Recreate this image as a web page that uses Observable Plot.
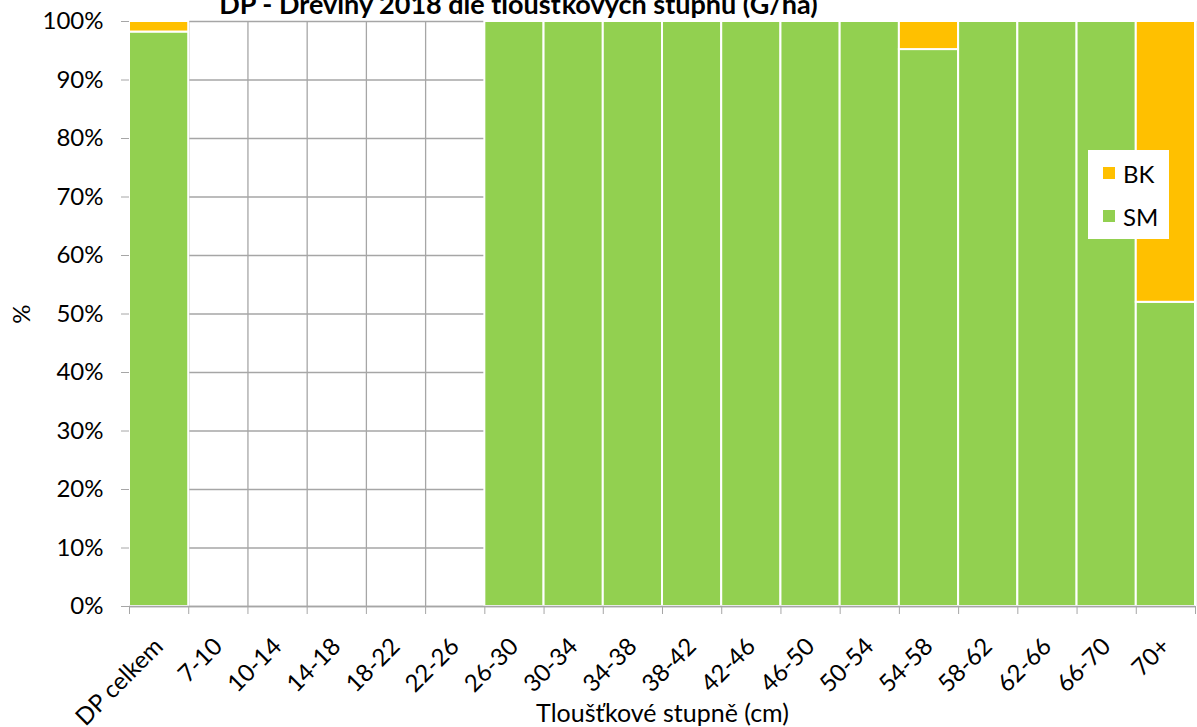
<!DOCTYPE html>
<html>
<head>
<meta charset="utf-8">
<script src="https://cdn.jsdelivr.net/npm/d3@7"></script>
<script src="https://cdn.jsdelivr.net/npm/@observablehq/plot@0.6"></script>
<style>
  html, body { margin: 0; padding: 0; background: white; }
  #wrap { position: relative; width: 1197px; height: 727px; overflow: hidden; font-family: Lato, "Noto Sans", sans-serif; }
  #legend { position: absolute; left: 1088px; top: 150px; width: 81px; height: 89px; background: white; }
  .item { position: absolute; left: 15px; height: 28px; display: flex; align-items: center; font-size: 24px; color: #000; }
  .sw { width: 12px; height: 12px; margin-right: 8px; }
</style>
</head>
<body>
<div id="wrap"></div>
<script>
const categories = ["DP celkem","7-10","10-14","14-18","18-22","22-26","26-30","30-34","34-38","38-42","42-46","46-50","50-54","54-58","58-62","62-66","66-70","70+"];
const seriesNames = ["SM","BK"];
const smValues = [98.2, 0, 0, 0, 0, 0, 100, 100, 100, 100, 100, 100, 100, 95.2, 100, 100, 100, 52.0];
const bkValues = [1.8, 0, 0, 0, 0, 0, 0, 0, 0, 0, 0, 0, 0, 4.8, 0, 0, 0, 48.0];
const yTicks = [0, 10, 20, 30, 40, 50, 60, 70, 80, 90, 100];
const colors = {BK: "#FFC000", SM: "#92D050"};

const title = "DP - Dřeviny 2018 dle tloušťkových stupňů (G/ha)";
const xTitle = "Tloušťkové stupně (cm)";
const yTitle = "%";

const rows = [];
categories.forEach((c, i) => {
  rows.push({i, cat: c, species: "SM", value: smValues[i]});
  rows.push({i, cat: c, species: "BK", value: bkValues[i]});
});
const data = rows.filter(d => d.value > 0);
const bounds = d3.range(categories.length + 1);
const centers = categories.map((c, i) => i + 0.5);
const grid = "#a6a6a6";

const chart = Plot.plot({
  width: 1197,
  height: 727,
  marginLeft: 129,
  marginRight: 2,
  marginTop: 21,
  marginBottom: 121,
  style: {fontFamily: "Lato, 'Noto Sans', sans-serif", fontSize: "24px", color: "#000", overflow: "hidden"},
  x: {domain: [0, categories.length]},
  y: {domain: [0, 100]},
  color: {domain: ["BK", "SM"], range: [colors.BK, colors.SM]},
  marks: [
    Plot.ruleY(yTicks, {stroke: grid, strokeWidth: 1.3}),
    Plot.ruleX(bounds, {stroke: grid, strokeWidth: 1.3}),
    Plot.rectY(data, {x1: "i", x2: d => d.i + 1, y: "value", fill: "species", stroke: "white", strokeWidth: 2, order: seriesNames}),
    Plot.axisY({ticks: yTicks, tickFormat: d => d + "%", tickSize: 8, tickPadding: 18, stroke: grid, fill: "#000", label: null, fontSize: 24}),
    Plot.axisX({ticks: bounds, tickSize: 8, text: null, stroke: grid, label: null}),
    Plot.axisX({ticks: centers, tickFormat: d => categories[Math.floor(d)], tickSize: 0, tickPadding: 36, tickRotate: -45, fill: "#000", label: null, fontSize: 24}),
    Plot.ruleY([0], {stroke: grid, strokeWidth: 1.3}),
    Plot.text([title], {frameAnchor: "top", lineAnchor: "middle", dx: -144, dy: -16, fontWeight: "bold", fontSize: 27, fill: "#000"}),
    Plot.text([xTitle], {frameAnchor: "bottom", lineAnchor: "middle", dy: 107, fontSize: 25, fill: "#000"}),
    Plot.text([yTitle], {frameAnchor: "left", textAnchor: "middle", lineAnchor: "middle", dx: -107, rotate: -90, fontSize: 24, fill: "#000"})
  ]
});

const wrap = document.getElementById("wrap");
wrap.appendChild(chart);

const legend = document.createElement("div");
legend.id = "legend";
[["BK", 9], ["SM", 52]].forEach(([name, top]) => {
  const it = document.createElement("div");
  it.className = "item";
  it.style.top = top + "px";
  const sw = document.createElement("span");
  sw.className = "sw";
  sw.style.background = colors[name];
  const tx = document.createElement("span");
  tx.textContent = name;
  it.appendChild(sw);
  it.appendChild(tx);
  legend.appendChild(it);
});
wrap.appendChild(legend);
</script>
</body>
</html>
